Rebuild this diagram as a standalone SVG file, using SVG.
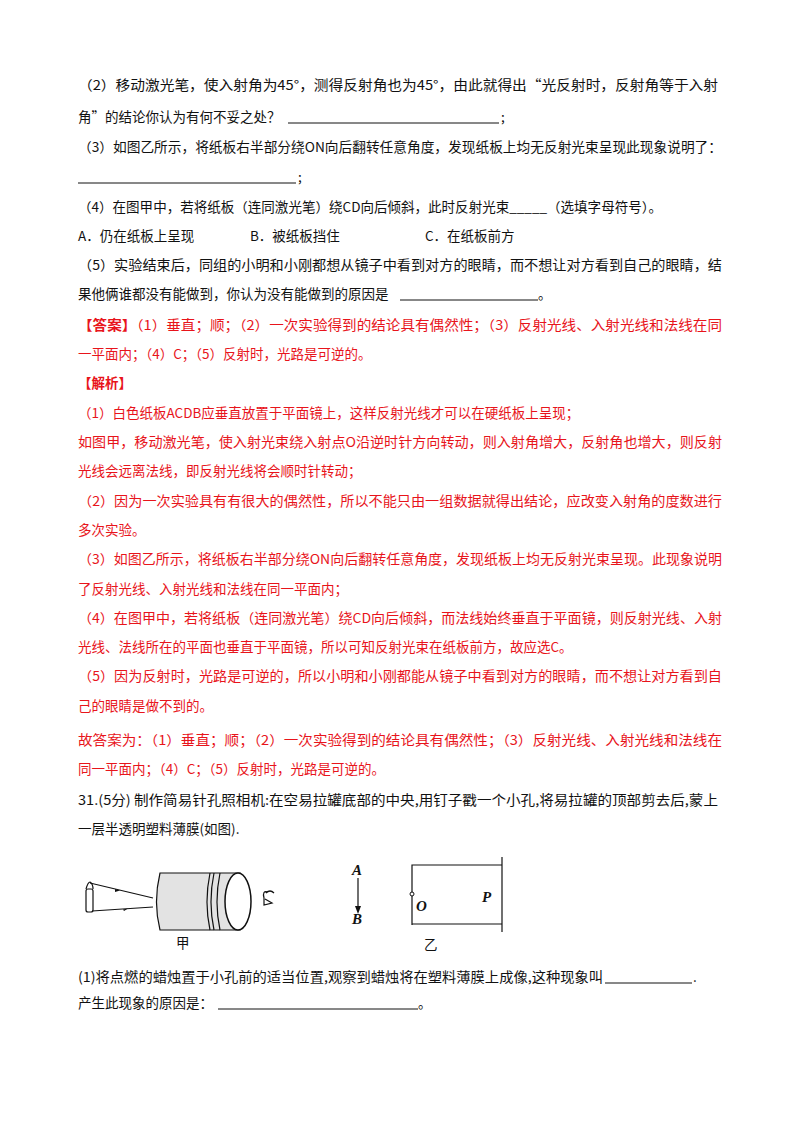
<svg xmlns="http://www.w3.org/2000/svg" width="800" height="1132" viewBox="0 0 800 1132">
<style>
text{font-family:"Noto Sans CJK SC","Liberation Serif",serif;font-size:13.5px;fill:#111}
.r{fill:#e8141b}
.b{font-weight:bold}
.u{stroke:#111;stroke-width:1}
.l{stroke:#111;stroke-width:1.2;fill:none}
.it{font-family:"Liberation Serif",serif;font-style:italic;font-weight:bold;font-size:15px}
</style>
<rect width="800" height="1132" fill="#fff"/>
<g id="questions">
<text x="78" y="90" textLength="640" lengthAdjust="spacingAndGlyphs">（2）移动激光笔，使入射角为45°，测得反射角也为45°，由此就得出“光反射时，反射角等于入射</text>
<text x="78" y="122">角”的结论你认为有何不妥之处？</text>
<line class="u" x1="288" y1="123" x2="499" y2="123"/><text x="501" y="122">;</text>
<text x="78" y="152" textLength="644" lengthAdjust="spacingAndGlyphs">（3）如图乙所示，将纸板右半部分绕ON向后翻转任意角度，发现纸板上均无反射光束呈现此现象说明了：</text>
<line class="u" x1="78" y1="183" x2="296" y2="183"/><text x="298" y="182">;</text>
<text x="78" y="212" textLength="584" lengthAdjust="spacingAndGlyphs">（4）在图甲中，若将纸板（连同激光笔）绕CD向后倾斜，此时反射光束_____（选填字母符号）。</text>
<text x="78" y="241">A．仍在纸板上呈现</text>
<text x="250" y="241">B．被纸板挡住</text>
<text x="425" y="241">C．在纸板前方</text>
<text x="78" y="270" textLength="644" lengthAdjust="spacingAndGlyphs">（5）实验结束后，同组的小明和小刚都想从镜子中看到对方的眼睛，而不想让对方看到自己的眼睛，结</text>
<text x="78" y="299">果他俩谁都没有能做到，你认为没有能做到的原因是</text>
<line class="u" x1="400" y1="300" x2="538" y2="300"/><text x="538" y="299">。</text>
</g>
<g id="answer">
<text class="r" x="78" y="330" textLength="644" lengthAdjust="spacingAndGlyphs"><tspan class="b">【答案】</tspan>（1）垂直；顺；（2）一次实验得到的结论具有偶然性；（3）反射光线、入射光线和法线在同</text>
<text class="r" x="78" y="359">一平面内；（4）C；（5）反射时，光路是可逆的。</text>
<text class="r b" x="78" y="388">【解析】</text>
<text class="r" x="78" y="418">（1）白色纸板ACDB应垂直放置于平面镜上，这样反射光线才可以在硬纸板上呈现；</text>
<text class="r" x="78" y="447" textLength="644" lengthAdjust="spacingAndGlyphs">如图甲，移动激光笔，使入射光束绕入射点O沿逆时针方向转动，则入射角增大，反射角也增大，则反射</text>
<text class="r" x="78" y="476">光线会远离法线，即反射光线将会顺时针转动；</text>
<text class="r" x="78" y="506" textLength="644" lengthAdjust="spacingAndGlyphs">（2）因为一次实验具有有很大的偶然性，所以不能只由一组数据就得出结论，应改变入射角的度数进行</text>
<text class="r" x="78" y="535">多次实验。</text>
<text class="r" x="78" y="564" textLength="644" lengthAdjust="spacingAndGlyphs">（3）如图乙所示，将纸板右半部分绕ON向后翻转任意角度，发现纸板上均无反射光束呈现。此现象说明</text>
<text class="r" x="78" y="594">了反射光线、入射光线和法线在同一平面内；</text>
<text class="r" x="78" y="623" textLength="644" lengthAdjust="spacingAndGlyphs">（4）在图甲中，若将纸板（连同激光笔）绕CD向后倾斜，而法线始终垂直于平面镜，则反射光线、入射</text>
<text class="r" x="78" y="652">光线、法线所在的平面也垂直于平面镜，所以可知反射光束在纸板前方，故应选C。</text>
<text class="r" x="78" y="681" textLength="644" lengthAdjust="spacingAndGlyphs">（5）因为反射时，光路是可逆的，所以小明和小刚都能从镜子中看到对方的眼睛，而不想让对方看到自</text>
<text class="r" x="78" y="711">己的眼睛是做不到的。</text>
<text class="r" x="78" y="745" textLength="644" lengthAdjust="spacingAndGlyphs">故答案为：（1）垂直；顺；（2）一次实验得到的结论具有偶然性；（3）反射光线、入射光线和法线在</text>
<text class="r" x="78" y="774">同一平面内；（4）C；（5）反射时，光路是可逆的。</text>
</g>
<g id="q31">
<text x="78" y="805" textLength="640" lengthAdjust="spacingAndGlyphs">31.(5分) 制作简易针孔照相机:在空易拉罐底部的中央,用钉子戳一个小孔,将易拉罐的顶部剪去后,蒙上</text>
<text x="78" y="834">一层半透明塑料薄膜(如图).</text>
<text x="78" y="982" textLength="525" lengthAdjust="spacingAndGlyphs">(1)将点燃的蜡烛置于小孔前的适当位置,观察到蜡烛将在塑料薄膜上成像,这种现象叫</text>
<line class="u" x1="605" y1="983" x2="692" y2="983"/><text x="693" y="982">.</text>
<text x="78" y="1008">产生此现象的原因是：</text>
<line class="u" x1="218" y1="1009" x2="418" y2="1009"/><text x="418" y="1008">。</text>
</g>
<g id="fig-jia">
<rect class="l" x="86" y="889" width="7" height="23" rx="2"/>
<path class="l" d="M86 889 Q88 882 90 882 Q93 884 93 889"/>
<line class="l" x1="90" y1="883" x2="153" y2="898"/>
<line class="l" x1="92" y1="911" x2="153" y2="907"/>
<path fill="#111" d="M115 889 l5 1.5 l-5 1.5z M123 909.5 l5 -1 l-4 2.6z"/>
<path d="M160 873 L240 873 L240 930 L160 930 Q153 902 160 873z" fill="#e3e3e3" stroke="#111" stroke-width="1.2"/>
<path class="l" d="M210 873 Q204 902 210 930 M214 873 Q208 902 214 930 M220 873 Q214 902 220 930"/>
<ellipse cx="238" cy="901.5" rx="13" ry="28.5" fill="#fff" stroke="#111" stroke-width="1.5"/>
<path class="l" stroke-width="2" d="M268 892 Q262 890 264 898 L264 905 L272 903 L265 899 M266 893 Q270 889 274 893"/>
<text x="176" y="948">甲</text>
</g>
<g id="fig-yi">
<text class="it" x="352" y="875">A</text>
<line class="l" x1="358" y1="878" x2="358" y2="910"/>
<path fill="#111" d="M355 906 L358 914 L361 906z"/>
<text class="it" x="352" y="924">B</text>
<path class="l" d="M412 925 L412 865 L502 865"/>
<line class="l" x1="412" y1="924" x2="502" y2="924"/>
<line class="l" x1="502" y1="857" x2="502" y2="932"/>
<circle cx="412" cy="894" r="2" fill="#fff" stroke="#111"/>
<text class="it" x="416" y="911">O</text>
<text class="it" x="482" y="902">P</text>
<text x="424" y="950">乙</text>
</g>
</svg>
